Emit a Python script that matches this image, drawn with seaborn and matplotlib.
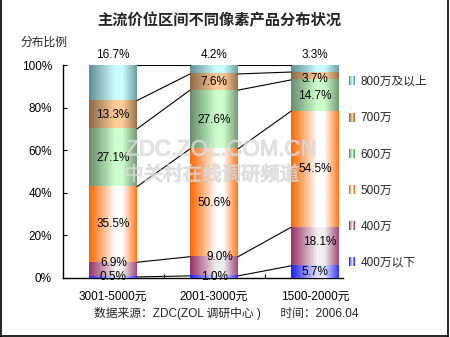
import numpy as np
import matplotlib
matplotlib.use("Agg")
import matplotlib.pyplot as plt
import seaborn as sns
from matplotlib.legend_handler import HandlerBase
from matplotlib.patches import Rectangle, Patch
from matplotlib.lines import Line2D
from matplotlib.colors import to_rgb
import matplotlib.patheffects as pe

# ---- data -------------------------------------------------------------
categories = ["3001-5000元", "2001-3000元", "1500-2000元"]
series = ["400万以下", "400万", "500万", "600万", "700万", "800万及以上"]
under_4m = [0.5, 1.0, 5.7]
px_4m = [6.9, 9.0, 18.1]
px_5m = [35.5, 50.6, 54.5]
px_6m = [27.1, 27.6, 14.7]
px_7m = [13.3, 7.6, 3.7]
px_8m_up = [16.7, 4.2, 3.3]
y_ticks = [0, 20, 40, 60, 80, 100]

# ---- style ------------------------------------------------------------
edge_colors = ["#2020FF", "#993366", "#FF6600", "#6A8C6A", "#8C6846", "#5F9097"]
light_colors = ["#E0E0FF", "#F0F0F0", "#FFFFFF", "#CCFFCC", "#FFCC99", "#CCFFFF"]
# label nudges in pixels (dx, dy) per series/category
label_nudge = {(1, 0): (1, 7), (1, 1): (6, 9), (1, 2): (5, 5), (4, 2): (0, -3)}

sns.set_style("white")
FONT = ["Liberation Sans", "Noto Sans CJK SC"]
plt.rcParams["font.family"] = FONT


def gradient(edge, light, n=96):
    e = np.array(to_rgb(edge))
    l = np.array(to_rgb(light))
    t = np.linspace(0, 1, n)
    w = np.interp(t, [0, 0.55, 0.7, 1.0], [0.0, 1.0, 1.0, 0.12])
    return e[None, :] * (1 - w[:, None]) + l[None, :] * w[:, None]


class GradientHandler(HandlerBase):
    def __init__(self, edge, light):
        super().__init__()
        self.cols = gradient(edge, light, n=8)

    def create_artists(self, legend, orig_handle, xdescent, ydescent,
                       width, height, fontsize, trans):
        n = len(self.cols)
        out = []
        for k, c in enumerate(self.cols):
            r = Rectangle((-xdescent + k * width / n, -ydescent), width / n * 1.05,
                          height, facecolor=c, edgecolor="none", transform=trans)
            out.append(r)
        return out


values = np.array([under_4m, px_4m, px_5m, px_6m, px_7m, px_8m_up])
cum = values.cumsum(axis=0)

W, H = 450, 337
fig = plt.figure(figsize=(W / 100, H / 100), dpi=100)
ax = fig.add_axes([63 / W, 59 / H, 280 / W, 213 / H])

bar_w = 0.475
# stacked bars: draw tallest cumulative first, then overlay the lower ones
for j in reversed(range(len(series))):
    before = len(ax.patches)
    sns.barplot(x=categories, y=cum[j], color=edge_colors[j], width=bar_w,
                saturation=1, errorbar=None, ax=ax)
    grad = gradient(edge_colors[j], light_colors[j])[None, :, :]
    for p in ax.patches[before:]:
        x0, w, h = p.get_x(), p.get_width(), p.get_height()
        ax.imshow(grad, extent=(x0, x0 + w, 0, h), aspect="auto",
                  interpolation="bilinear", zorder=2 + (len(series) - j) * 0.1)
        p.set_visible(False)

# series lines between neighbouring bars
for i in range(len(categories) - 1):
    for j in range(len(series)):
        ax.plot([i + bar_w / 2, i + 1 - bar_w / 2], [cum[j, i], cum[j, i + 1]],
                color="black", lw=0.8, zorder=3)

# value labels
for j in range(len(series)):
    for i in range(len(categories)):
        v = values[j, i]
        if j == len(series) - 1:
            y, dx, dy = cum[j, i], 0, 10
        else:
            y = cum[j, i] - v / 2
            dx, dy = label_nudge.get((j, i), (0, 0))
        ax.annotate(f"{v:.1f}%", (i, y), xytext=(dx, dy), textcoords="offset pixels",
                    ha="center", va="center", fontsize=8.5, color="black",
                    zorder=5, annotation_clip=False)

ax.set_xlim(-0.495, 2.277)
ax.set_ylim(0, 100)
ax.set_yticks(y_ticks)
ax.set_yticklabels([f"{t}%" for t in y_ticks])
ax.set_xticks(range(len(categories)))
ax.set_xticklabels(categories)
ax.set_xticks([0.5, 1.5], minor=True)
ax.set_xlabel("")
ax.set_ylabel("")
ax.tick_params(axis="y", direction="in", length=3, width=0.8, pad=8,
               labelsize=8.5, left=True, colors="black")
ax.tick_params(axis="x", which="major", length=0, pad=9, labelsize=8.5, colors="black")
ax.tick_params(axis="x", which="minor", direction="in", length=3, width=0.8,
               bottom=True, colors="black")
for s in ["top", "right"]:
    ax.spines[s].set_visible(False)
for s in ["left", "bottom"]:
    ax.spines[s].set_color("black")
    ax.spines[s].set_linewidth(1.0)
ax.set_facecolor("white")

# watermark
wm_kw = dict(ha="center", va="center", color="#E4E4E4", alpha=0.5, zorder=10,
             path_effects=[pe.withStroke(linewidth=1.0, foreground="#C4C4C4")])
fig.text(221 / W, 1 - 150 / H, "ZDC.ZOL.COM.CN", fontsize=16, family=FONT, **wm_kw)
fig.text(212 / W, 1 - 175 / H, "中关村在线调研频道", fontsize=14, family=FONT, **wm_kw)

# titles and notes
fig.text(219 / W, 1 - 20 / H, "主流价位区间不同像素产品分布状况", ha="center", va="center",
         fontsize=11, fontweight="bold", family=FONT)
fig.text(20 / W, 1 - 43 / H, "分布比例", ha="left", va="center", fontsize=8.5, family=FONT)
fig.text(226 / W, 1 - 313 / H, "数据来源：ZDC(ZOL 调研中心 )      时间：2006.04",
         ha="center", va="center", fontsize=8.5, family=FONT)

# legend, top entry first
handles, labels, hmap = [], [], {}
for j in reversed(range(len(series))):
    h = Patch()
    handles.append(h)
    labels.append(series[j])
    hmap[h] = GradientHandler(edge_colors[j], light_colors[j])
fig.legend(handles, labels, handler_map=hmap, loc="upper left",
           bbox_to_anchor=(349 / W, 1 - 76 / H), frameon=False, fontsize=8.5,
           handlelength=0.5, handleheight=0.8, handletextpad=0.45,
           labelspacing=2.05, borderpad=0, borderaxespad=0)

# outer frame
for xs, ys in [([0.5, 0.5], [0, H]), ([448, 448], [0, H]), ([0, 448], [1.5, 1.5])]:
    fig.add_artist(Line2D([x / W for x in xs], [y / H for y in ys], color="black",
                          lw=1.2, transform=fig.transFigure))

fig.savefig("out.png", dpi=100)
